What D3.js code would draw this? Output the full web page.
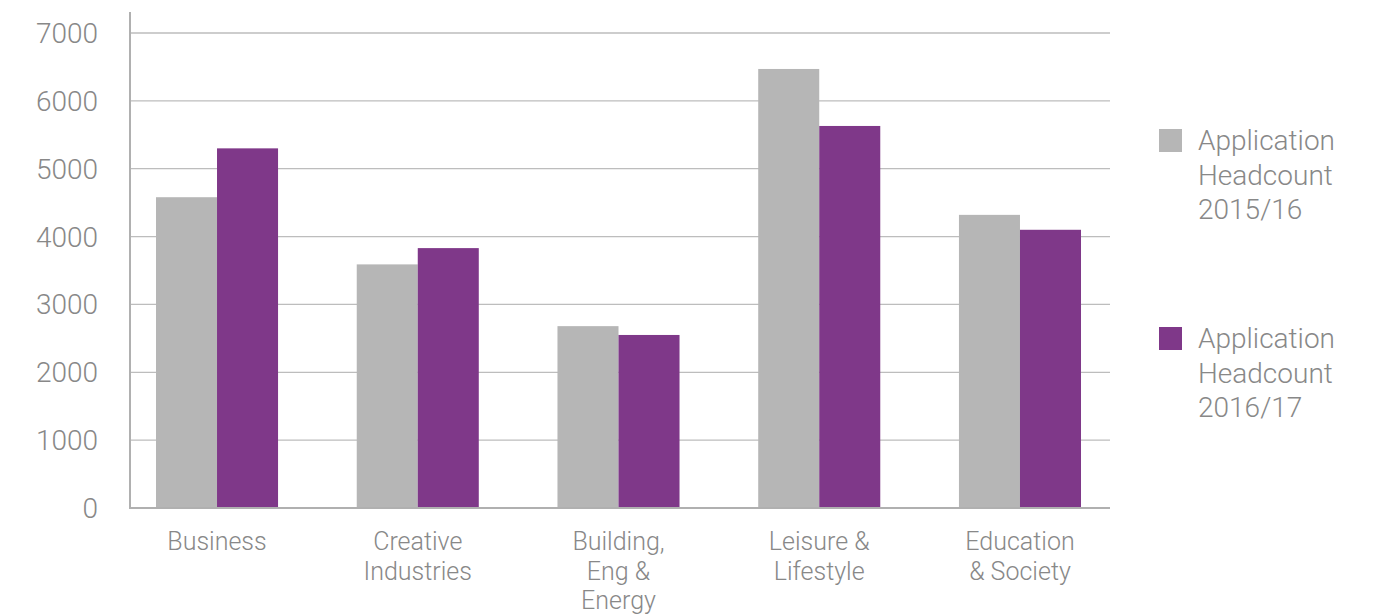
<!DOCTYPE html>
<html>
<head>
<meta charset="utf-8">
<script src="https://cdn.jsdelivr.net/npm/d3@7"></script>
<style>
  html, body { margin: 0; padding: 0; background: #fff; }
  svg { display: block; }
  text { font-family: Roboto, "Liberation Sans", Arial, sans-serif; font-weight: 300; fill: #888; }
</style>
</head>
<body>
<svg id="chart" width="1379" height="614"></svg>
<script>
// Application headcount by curriculum area
const categories = [
  ["Business"],
  ["Creative", "Industries"],
  ["Building,", "Eng &", "Energy"],
  ["Leisure &", "Lifestyle"],
  ["Education", "& Society"]
];
const seriesNames = [
  ["Application", "Headcount", "2015/16"],
  ["Application", "Headcount", "2016/17"]
];
const values2015 = [4580, 3590, 2680, 6470, 4320];
const values2016 = [5300, 3830, 2550, 5630, 4100];
const yTicks = [0, 1000, 2000, 3000, 4000, 5000, 6000, 7000];
const colors = ["#b6b6b6", "#7f3889"];

const svg = d3.select("#chart");
const plotLeft = 130, plotRight = 1110, plotTop = 33, plotBottom = 508;

const x0 = d3.scaleBand()
  .domain(d3.range(categories.length))
  .range([plotLeft, 1107])
  .paddingInner(0.392)
  .paddingOuter(0.1295);
const x1 = d3.scaleBand()
  .domain([0, 1])
  .range([0, x0.bandwidth()]);
const y = d3.scaleLinear().domain([0, 7000]).range([plotBottom, plotTop]);

// horizontal gridlines
svg.append("g")
  .selectAll("line")
  .data(yTicks.filter(d => d > 0))
  .join("line")
  .attr("x1", plotLeft).attr("x2", plotRight)
  .attr("y1", d => y(d)).attr("y2", d => y(d))
  .attr("stroke", "#bdbdbd").attr("stroke-width", 1.3);

// y tick labels
svg.append("g")
  .selectAll("text")
  .data(yTicks)
  .join("text")
  .attr("x", 98)
  .attr("y", d => y(d) + 10)
  .attr("text-anchor", "end")
  .attr("font-size", 28)
  .text(d => d);

// bars
const series = [values2015, values2016];
series.forEach((vals, s) => {
  svg.append("g")
    .selectAll("rect")
    .data(vals)
    .join("rect")
    .attr("x", (d, i) => x0(i) + x1(s))
    .attr("width", x1.bandwidth())
    .attr("y", d => y(d))
    .attr("height", d => y(0) - y(d))
    .attr("fill", colors[s]);
});

// axis lines
svg.append("line")
  .attr("x1", plotLeft).attr("x2", plotLeft)
  .attr("y1", 12).attr("y2", plotBottom + 1)
  .attr("stroke", "#b0b0b0").attr("stroke-width", 2);
svg.append("line")
  .attr("x1", plotLeft - 1).attr("x2", plotRight)
  .attr("y1", plotBottom).attr("y2", plotBottom)
  .attr("stroke", "#b0b0b0").attr("stroke-width", 2);

// category labels
const catG = svg.append("g")
  .selectAll("text")
  .data(categories)
  .join("text")
  .attr("text-anchor", "middle")
  .attr("font-size", 25)
  .attr("x", (d, i) => x0(i) + x0.bandwidth() / 2)
  .attr("y", 550);
catG.selectAll("tspan")
  .data(d => d)
  .join("tspan")
  .attr("x", function () { return d3.select(this.parentNode).attr("x"); })
  .attr("dy", (d, i) => i === 0 ? 0 : 29.5)
  .text(d => d);

// legend
const legendTop = [129, 327];
seriesNames.forEach((lines, s) => {
  const g = svg.append("g");
  g.append("rect")
    .attr("x", 1159).attr("y", legendTop[s])
    .attr("width", 23).attr("height", 23)
    .attr("fill", colors[s]);
  g.append("text")
    .attr("x", 1198).attr("y", legendTop[s] + 21)
    .attr("font-size", 28)
    .selectAll("tspan")
    .data(lines)
    .join("tspan")
    .attr("x", 1198)
    .attr("dy", (d, i) => i === 0 ? 0 : 34.5)
    .text(d => d);
});
</script>
</body>
</html>
